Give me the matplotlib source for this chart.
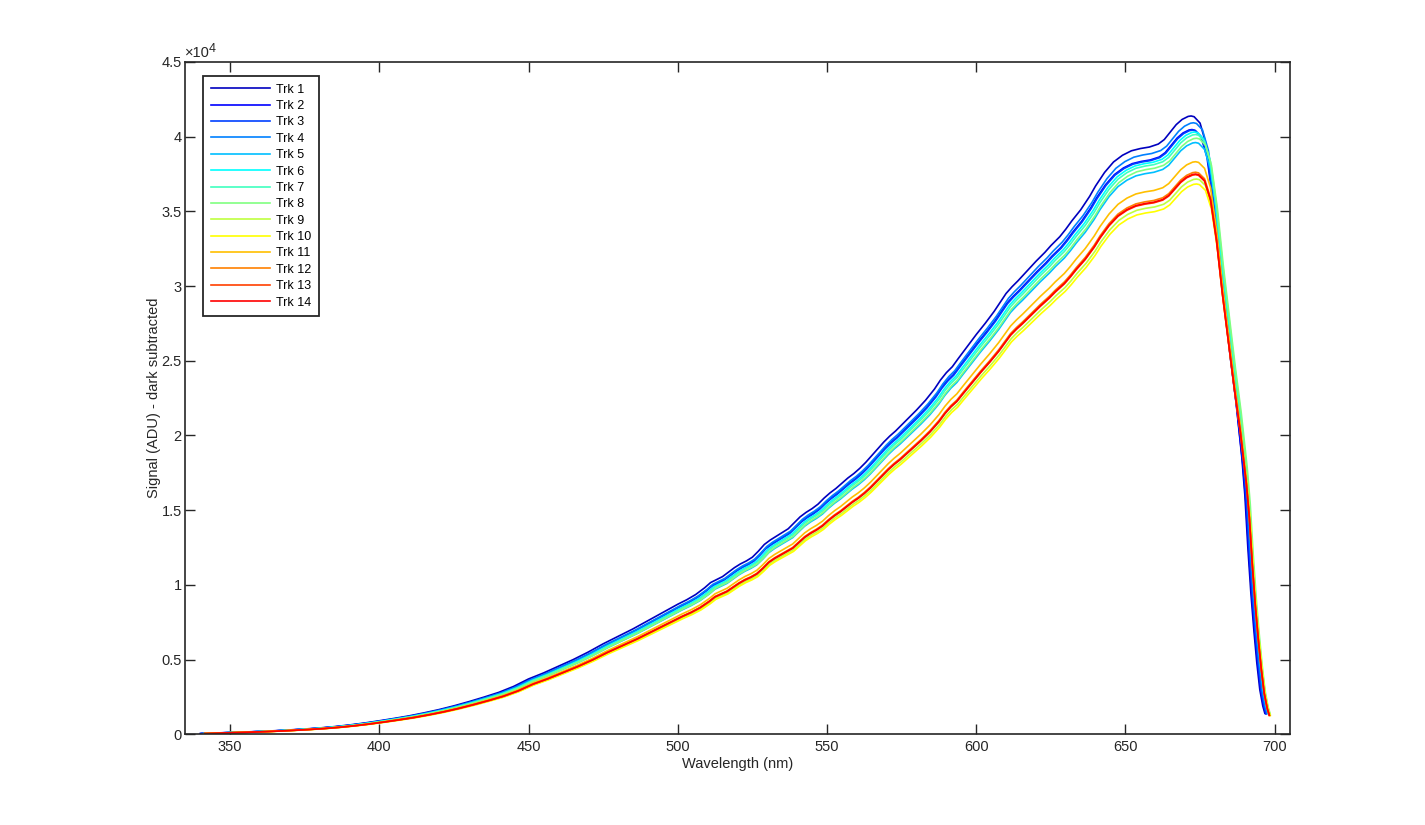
import matplotlib
matplotlib.use("Agg")
import matplotlib.pyplot as plt
import numpy as np

# ---- data ----
wavelength = [340, 345, 350, 355, 360, 365, 370, 375, 380, 385, 390, 395, 400, 405, 410, 415, 420,
              425, 430, 435, 440, 445, 450, 455, 460, 465, 470, 475, 480, 485, 490, 495, 500,
              503, 506, 509, 511, 513, 515, 517, 519, 521, 523, 525, 527, 529, 531, 533, 535,
              537, 539, 541, 543, 545, 547, 549, 551, 553, 555, 557, 559, 561, 563, 565, 567,
              569, 571, 573, 575, 577, 580, 583, 586, 588, 590, 592, 594, 597, 600, 603, 606,
              608, 610, 612, 614, 617, 620, 623, 625, 628, 630, 632, 635, 638, 640, 643, 646,
              649, 652, 655, 658, 661, 663, 665, 667, 669, 671, 672, 673, 675, 677, 679, 681,
              683, 685, 687, 689, 690, 691, 692, 693, 694, 695, 696, 696.7]
trk1_signal = [50, 80, 120, 150, 190, 235, 290, 350, 420, 510, 620, 750, 900, 1060, 1230, 1430, 1650,
               1900, 2180, 2480, 2800, 3200, 3700, 4100, 4550, 5000, 5500, 6050, 6550, 7050, 7600, 8150, 8700,
               9000, 9350, 9800, 10150, 10350, 10550, 10850, 11150, 11400, 11600, 11850, 12250, 12700, 13000, 13250, 13500,
               13750, 14150, 14550, 14850, 15100, 15400, 15800, 16150, 16450, 16800, 17150, 17450, 17800, 18200, 18650, 19100,
               19550, 19950, 20300, 20700, 21100, 21700, 22350, 23100, 23700, 24200, 24600, 25150, 25950, 26750, 27500, 28300,
               28900, 29500, 29950, 30350, 31000, 31650, 32250, 32700, 33300, 33800, 34350, 35100, 36000, 36700, 37600, 38300,
               38750, 39050, 39200, 39300, 39500, 39800, 40300, 40800, 41150, 41350, 41380, 41330, 40900, 39500, 36500, 32500,
               29000, 25500, 22300, 18500, 16000, 12500, 9500, 7000, 4800, 3000, 1900, 1400]

track_names = ["Trk %d" % i for i in range(1, 15)]
# relative response of each track to Trk 1, and its wavelength offset (nm)
track_gain = [1.000, 0.978, 0.977, 0.989, 0.957, 0.974, 0.970, 0.964, 0.898, 0.890, 0.926, 0.909, 0.905, 0.906]
track_shift = [0.0, 0.3, 0.5, 0.8, 1.5, 1.2, 1.5, 1.8, 1.8, 1.8, 1.5, 1.5, 1.5, 1.5]
track_colors = ["#0000BF", "#0000FF", "#0040FF", "#0080FF", "#00BFFF", "#00FFFF", "#40FFBF",
                "#80FF80", "#BFFF40", "#FFFF00", "#FFBF00", "#FF8000", "#FF4000", "#FF0000"]

xticks = [350, 400, 450, 500, 550, 600, 650, 700]
yticks = [0, 5000, 10000, 15000, 20000, 25000, 30000, 35000, 40000, 45000]
ytick_labels = ["0", "0.5", "1", "1.5", "2", "2.5", "3", "3.5", "4", "4.5"]

# ---- style ----
plt.rcParams["font.family"] = ["Liberation Sans", "DejaVu Sans"]
axcol = "#262626"

fig = plt.figure(figsize=(14.25, 8.25), dpi=100)
ax = fig.add_axes([0.13, 0.11, 0.775, 0.815])

wl = np.array(wavelength)
base = np.array(trk1_signal, dtype=float)
for name, g, s, c in zip(track_names, track_gain, track_shift, track_colors):
    ax.plot(wl + s, base * g, color=c, lw=1.2, label=name)

ax.set_xlim(335, 705)
ax.set_ylim(0, 45000)
ax.set_xticks(xticks)
ax.set_yticks(yticks)
ax.set_yticklabels(ytick_labels)
ax.tick_params(direction="in", length=7, width=1.0, colors=axcol, labelsize=10.5,
               top=True, right=True, labeltop=False, labelright=False)
ax.tick_params(axis="y", pad=2.5)
ax.tick_params(axis="x", pad=4)
for sp in ax.spines.values():
    sp.set_color(axcol)
    sp.set_linewidth(1.2)

ax.set_xlabel("Wavelength (nm)", fontsize=10.5, color=axcol, labelpad=2)
ax.set_ylabel("Signal (ADU) - dark subtracted", fontsize=10.5, color=axcol, labelpad=0)
ax.annotate("\u00d710", xy=(0.0, 1.0), xycoords="axes fraction", xytext=(0, 1),
            textcoords="offset points", ha="left", va="bottom", fontsize=10.5, color=axcol)
ax.annotate("4", xy=(0.0, 1.0), xycoords="axes fraction", xytext=(17, 5),
            textcoords="offset points", ha="left", va="bottom", fontsize=9, color=axcol)

leg = ax.legend(loc="upper left", bbox_to_anchor=(18 / 1104.4, 1 - 14 / 672.0), borderaxespad=0,
                fontsize=9, frameon=True, fancybox=False, framealpha=1, edgecolor=axcol,
                handlelength=4.75, handletextpad=0.45, labelspacing=0.35, borderpad=0.62)
leg.get_frame().set_linewidth(1.3)

fig.savefig("out.png", dpi=100)
